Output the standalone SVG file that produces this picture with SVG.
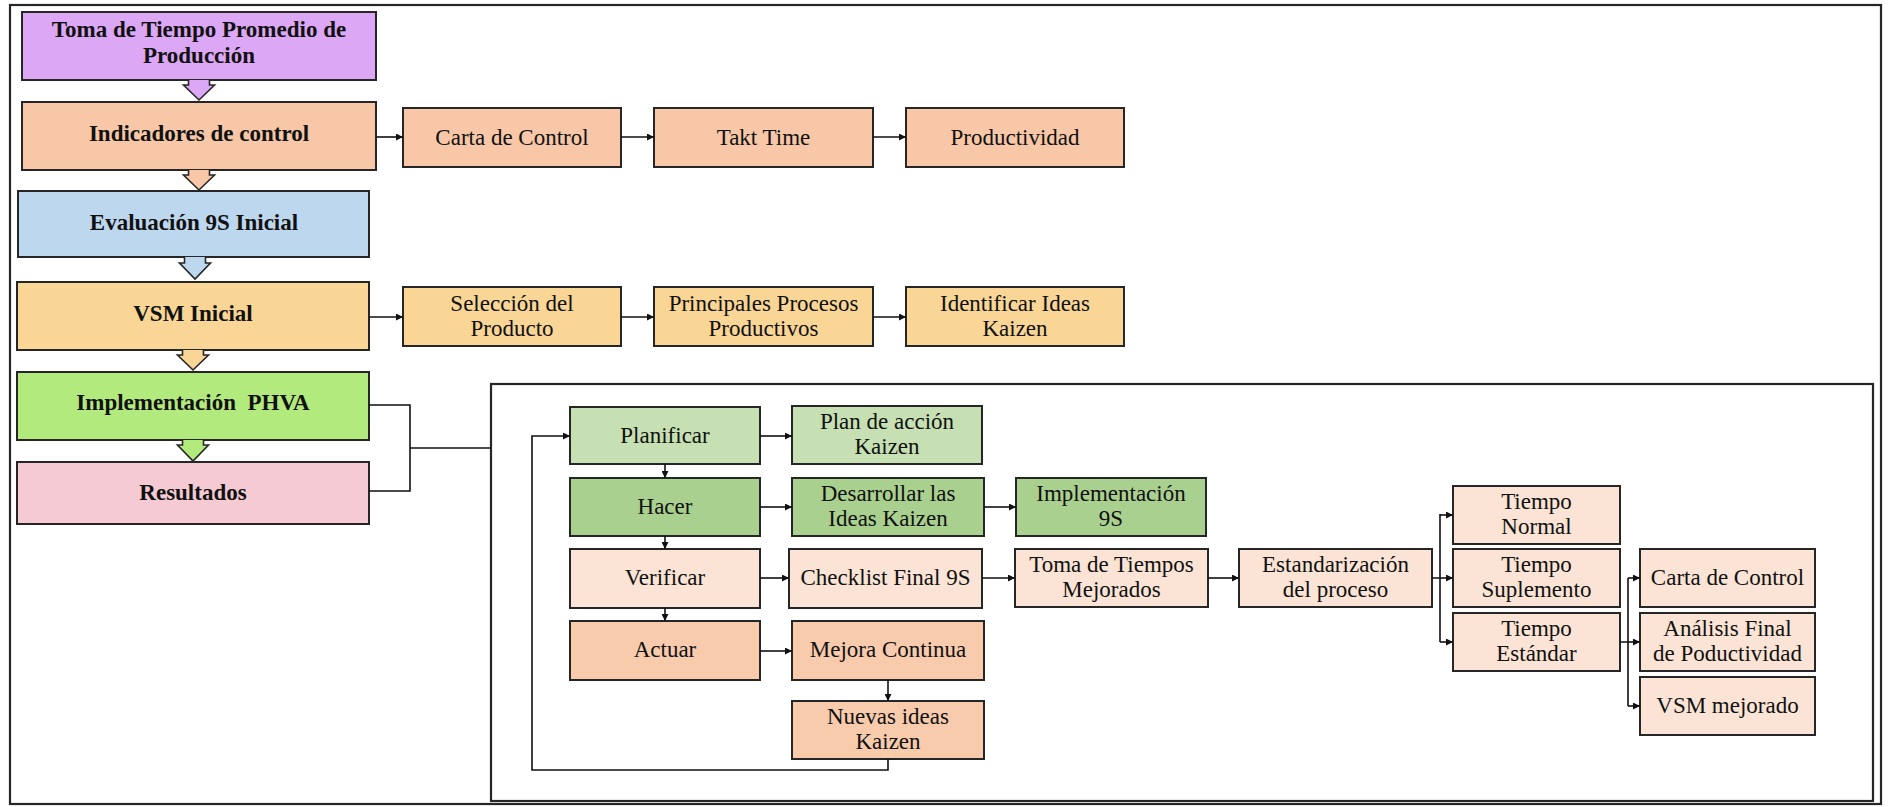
<svg xmlns="http://www.w3.org/2000/svg" width="1888" height="807" viewBox="0 0 1888 807">
  <defs>
    <marker id="arr" viewBox="0 0 10 10" refX="10" refY="5" markerWidth="7" markerHeight="7" markerUnits="userSpaceOnUse" orient="auto">
      <path d="M0,0 L10,5 L0,10 Z" fill="#111"/>
    </marker>
    <style>
      .box { stroke: #262626; stroke-width: 2; }
      .frame { fill: none; stroke: #262626; stroke-width: 2.2; }
      .chev { stroke: #262626; stroke-width: 1.6; stroke-linejoin: miter; }
      .t { font-family: "Liberation Serif", "Times New Roman", serif; font-size: 23px; fill: #111; text-anchor: middle; }
      .b { font-weight: bold; }
      .line { fill: none; stroke: #111; stroke-width: 1.6; }
      .arrow { fill: none; stroke: #111; stroke-width: 1.6; marker-end: url(#arr); }
      .purple { fill: #DCA7F4; }
      .salmon { fill: #F7C7A7; }
      .blue { fill: #BDD7EE; }
      .gold { fill: #F9D596; }
      .lime { fill: #B3EA7D; }
      .pink { fill: #F5CAD2; }
      .g1 { fill: #C6E0B4; }
      .g2 { fill: #A9D08E; }
      .peach { fill: #FBE4D5; }
      .orange { fill: #F8CBAD; }
    </style>
  </defs>

  <rect x="0" y="0" width="1888" height="807" fill="#ffffff"/>

  <!-- outer border and PHVA detail frame -->
  <rect class="frame" x="10" y="5" width="1871" height="799"/>
  <rect class="frame" x="491" y="384" width="1382" height="417"/>

  <!-- main sequence (left column) -->
  <g id="toma-tiempo">
    <rect class="box purple" x="22" y="12" width="354" height="68"/>
    <text class="t b" x="199" y="37">Toma de Tiempo Promedio de</text>
    <text class="t b" x="199" y="63">Producción</text>
  </g>
  <g id="indicadores">
    <rect class="box salmon" x="22" y="102" width="354" height="68"/>
    <text class="t b" x="199" y="141">Indicadores de control</text>
  </g>
  <g id="evaluacion-9s">
    <rect class="box blue" x="18" y="191" width="351" height="66"/>
    <text class="t b" x="194" y="230">Evaluación 9S Inicial</text>
  </g>
  <g id="vsm-inicial">
    <rect class="box gold" x="17" y="282" width="352" height="68"/>
    <text class="t b" x="193" y="321">VSM Inicial</text>
  </g>
  <g id="phva">
    <rect class="box lime" x="17" y="372" width="352" height="68"/>
    <text class="t b" x="193" y="410" xml:space="preserve">Implementación  PHVA</text>
  </g>
  <g id="resultados">
    <rect class="box pink" x="17" y="462" width="352" height="62"/>
    <text class="t b" x="193" y="500">Resultados</text>
  </g>

  <!-- block arrows between the main steps -->
  <g id="block-arrows">
    <path class="chev purple" d="M188.5,80 V85 H183.5 L199,100 L214.5,85 H209.5 V80"/>
    <path class="chev salmon" d="M188.5,170 V175 H183.5 L199,190 L214.5,175 H209.5 V170"/>
    <path class="chev blue" d="M184.5,257 V263 H179.5 L195,279 L210.5,263 H205.5 V257"/>
    <path class="chev gold" d="M182.5,350 V355 H177.5 L193,370 L208.5,355 H203.5 V350"/>
    <path class="chev lime" d="M182.5,440 V445 H177.5 L193,461 L208.5,445 H203.5 V440"/>
  </g>

  <!-- control indicators row -->
  <g id="carta-control-1">
    <rect class="box salmon" x="403" y="108" width="218" height="59"/>
    <text class="t" x="512" y="145">Carta de Control</text>
  </g>
  <g id="takt-time">
    <rect class="box salmon" x="654" y="108" width="219" height="59"/>
    <text class="t" x="763.5" y="145">Takt Time</text>
  </g>
  <g id="productividad">
    <rect class="box salmon" x="906" y="108" width="218" height="59"/>
    <text class="t" x="1015" y="145">Productividad</text>
  </g>

  <!-- VSM row -->
  <g id="seleccion-producto">
    <rect class="box gold" x="403" y="287" width="218" height="59"/>
    <text class="t" x="512" y="311">Selección del</text>
    <text class="t" x="512" y="336">Producto</text>
  </g>
  <g id="principales-procesos">
    <rect class="box gold" x="654" y="287" width="219" height="59"/>
    <text class="t" x="763.5" y="311">Principales Procesos</text>
    <text class="t" x="763.5" y="336">Productivos</text>
  </g>
  <g id="identificar-ideas">
    <rect class="box gold" x="906" y="287" width="218" height="59"/>
    <text class="t" x="1015" y="311">Identificar Ideas</text>
    <text class="t" x="1015" y="336">Kaizen</text>
  </g>

  <!-- PHVA cycle -->
  <g id="planificar">
    <rect class="box g1" x="570" y="407" width="190" height="57"/>
    <text class="t" x="665" y="443">Planificar</text>
  </g>
  <g id="plan-accion">
    <rect class="box g1" x="792" y="406" width="190" height="58"/>
    <text class="t" x="887" y="429">Plan de acción</text>
    <text class="t" x="887" y="454">Kaizen</text>
  </g>
  <g id="hacer">
    <rect class="box g2" x="570" y="478" width="190" height="58"/>
    <text class="t" x="665" y="514">Hacer</text>
  </g>
  <g id="desarrollar-ideas">
    <rect class="box g2" x="792" y="478" width="192" height="58"/>
    <text class="t" x="888" y="501">Desarrollar las</text>
    <text class="t" x="888" y="526">Ideas Kaizen</text>
  </g>
  <g id="implementacion-9s">
    <rect class="box g2" x="1016" y="478" width="190" height="58"/>
    <text class="t" x="1111" y="501">Implementación</text>
    <text class="t" x="1111" y="526">9S</text>
  </g>
  <g id="verificar">
    <rect class="box peach" x="570" y="549" width="190" height="59"/>
    <text class="t" x="665" y="585">Verificar</text>
  </g>
  <g id="checklist-9s">
    <rect class="box peach" x="789" y="549" width="193" height="59"/>
    <text class="t" x="885.5" y="585">Checklist Final 9S</text>
  </g>
  <g id="toma-tiempos-mejorados">
    <rect class="box peach" x="1015" y="549" width="193" height="58"/>
    <text class="t" x="1111.5" y="572">Toma de Tiempos</text>
    <text class="t" x="1111.5" y="597">Mejorados</text>
  </g>
  <g id="estandarizacion">
    <rect class="box peach" x="1239" y="549" width="193" height="58"/>
    <text class="t" x="1335.5" y="572">Estandarización</text>
    <text class="t" x="1335.5" y="597">del proceso</text>
  </g>
  <g id="actuar">
    <rect class="box orange" x="570" y="621" width="190" height="59"/>
    <text class="t" x="665" y="657">Actuar</text>
  </g>
  <g id="mejora-continua">
    <rect class="box orange" x="792" y="621" width="192" height="59"/>
    <text class="t" x="888" y="657">Mejora Continua</text>
  </g>
  <g id="nuevas-ideas">
    <rect class="box orange" x="792" y="701" width="192" height="58"/>
    <text class="t" x="888" y="724">Nuevas ideas</text>
    <text class="t" x="888" y="749">Kaizen</text>
  </g>

  <!-- standard time breakdown -->
  <g id="tiempo-normal">
    <rect class="box peach" x="1453" y="486" width="167" height="58"/>
    <text class="t" x="1536.5" y="509">Tiempo</text>
    <text class="t" x="1536.5" y="534">Normal</text>
  </g>
  <g id="tiempo-suplemento">
    <rect class="box peach" x="1453" y="549" width="167" height="58"/>
    <text class="t" x="1536.5" y="572">Tiempo</text>
    <text class="t" x="1536.5" y="597">Suplemento</text>
  </g>
  <g id="tiempo-estandar">
    <rect class="box peach" x="1453" y="613" width="167" height="58"/>
    <text class="t" x="1536.5" y="636">Tiempo</text>
    <text class="t" x="1536.5" y="661">Estándar</text>
  </g>

  <!-- final outputs -->
  <g id="carta-control-2">
    <rect class="box peach" x="1640" y="549" width="175" height="58"/>
    <text class="t" x="1727.5" y="585">Carta de Control</text>
  </g>
  <g id="analisis-final">
    <rect class="box peach" x="1640" y="613" width="175" height="58"/>
    <text class="t" x="1727.5" y="636">Análisis Final</text>
    <text class="t" x="1727.5" y="661">de Poductividad</text>
  </g>
  <g id="vsm-mejorado">
    <rect class="box peach" x="1640" y="677" width="175" height="58"/>
    <text class="t" x="1727.5" y="713">VSM mejorado</text>
  </g>

  <!-- connectors -->
  <g id="connectors">
    <!-- indicators row -->
    <line class="arrow" x1="376" y1="137" x2="403" y2="137"/>
    <line class="arrow" x1="621" y1="137" x2="654" y2="137"/>
    <line class="arrow" x1="873" y1="137" x2="906" y2="137"/>
    <!-- VSM row -->
    <line class="arrow" x1="369" y1="317" x2="403" y2="317"/>
    <line class="arrow" x1="621" y1="317" x2="654" y2="317"/>
    <line class="arrow" x1="873" y1="317" x2="906" y2="317"/>
    <!-- bracket from PHVA / Resultados into the detail frame -->
    <path class="line" d="M369,405 H410 V491 H369"/>
    <line class="line" x1="410" y1="448" x2="491" y2="448"/>
    <!-- PHVA vertical steps -->
    <line class="arrow" x1="665" y1="464" x2="665" y2="478"/>
    <line class="arrow" x1="665" y1="536" x2="665" y2="549"/>
    <line class="arrow" x1="665" y1="608" x2="665" y2="621"/>
    <!-- PHVA horizontal -->
    <line class="arrow" x1="760" y1="436" x2="792" y2="436"/>
    <line class="arrow" x1="760" y1="507" x2="792" y2="507"/>
    <line class="arrow" x1="984" y1="507" x2="1016" y2="507"/>
    <line class="arrow" x1="760" y1="578" x2="789" y2="578"/>
    <line class="arrow" x1="982" y1="578" x2="1015" y2="578"/>
    <line class="arrow" x1="1208" y1="578" x2="1239" y2="578"/>
    <line class="arrow" x1="760" y1="651" x2="792" y2="651"/>
    <line class="arrow" x1="888" y1="680" x2="888" y2="701"/>
    <!-- feedback loop back to Planificar -->
    <path class="arrow" d="M888,759 V770 H532 V436 H570"/>
    <!-- fork to time components -->
    <path class="line" d="M1432,578 H1440 M1440,514 V642"/>
    <line class="arrow" x1="1440" y1="515" x2="1453" y2="515"/>
    <line class="arrow" x1="1440" y1="578" x2="1453" y2="578"/>
    <line class="arrow" x1="1440" y1="642" x2="1453" y2="642"/>
    <!-- fork to final outputs -->
    <path class="line" d="M1620,642 H1628 M1628,578 V706"/>
    <line class="arrow" x1="1628" y1="578" x2="1640" y2="578"/>
    <line class="arrow" x1="1628" y1="642" x2="1640" y2="642"/>
    <line class="arrow" x1="1628" y1="706" x2="1640" y2="706"/>
  </g>
</svg>
